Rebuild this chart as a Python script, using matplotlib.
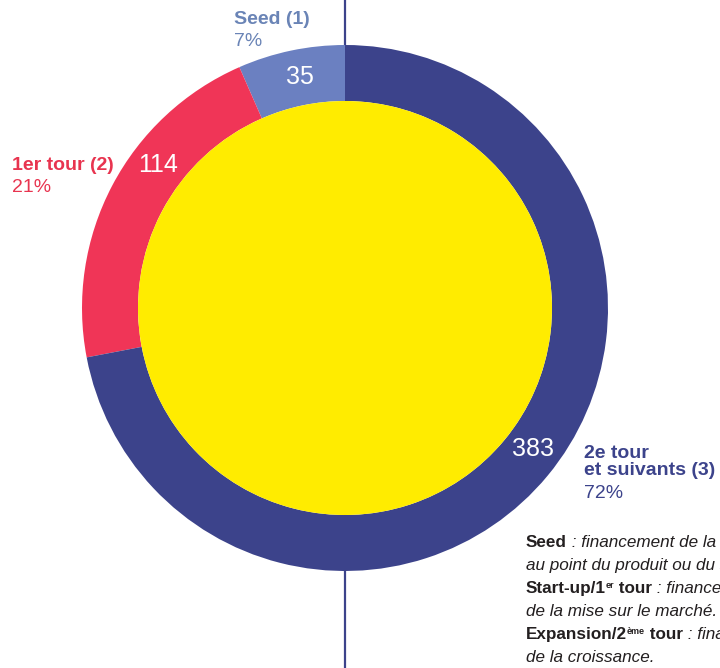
import matplotlib

matplotlib.use("Agg")
import matplotlib.pyplot as plt
import numpy as np

plt.rcParams["font.family"] = ["Liberation Sans", "DejaVu Sans"]

stages = ["Seed (1)", "1er tour (2)", "2e tour\net suivants (3)"]
counts = [35, 114, 383]
shares = ["7%", "21%", "72%"]
ring_colors = ["#6b80c1", "#f03557", "#3c438b"]
label_colors = ["#6a84b6", "#e8344f", "#3c438b"]

W, H = 720, 668
cx, cy = 345, H - 308
r_out, r_in = 263, 207

fig = plt.figure(figsize=(W / 100, H / 100), dpi=100)
ax = fig.add_axes([0, 0, 1, 1])

# vertical guide behind the donut
ax.plot([cx, cx], [0, H], color="#3c438b", lw=1.6, zorder=0)

wedges, _ = ax.pie(
    counts,
    colors=ring_colors,
    startangle=90,
    counterclock=True,
    center=(cx, cy),
    radius=r_out,
    wedgeprops=dict(width=r_out - r_in, linewidth=0),
    frame=True,
)
ax.set_xlim(0, W)
ax.set_ylim(0, H)
ax.axis("off")
ax.add_patch(plt.Circle((cx, cy), r_in, color="#ffec00", lw=0, zorder=3))

# value labels inside the ring
value_angles = [101, 142.5, -37]
r_mid = 235
for n, ang in zip(counts, value_angles):
    a = np.deg2rad(ang)
    ax.text(cx + r_mid * np.cos(a), cy + r_mid * np.sin(a), str(n), color="white",
            fontsize=18, ha="center", va="center", zorder=4)

# stage names and shares outside
label_pos = [(234, H - 20), (12, H - 165), (584, H - 462)]
for name, share, col, (x, y) in zip(stages, shares, label_colors, label_pos):
    ax.text(x, y, name, color=col, fontsize=14, fontweight="bold",
            ha="left", va="center", linespacing=1.05)
    nlines = name.count("\n")
    ax.text(x, y - 22 - nlines * 10, share, color=col, fontsize=14,
            ha="left", va="center")

# footnote with mixed bold / italic runs
fig.canvas.draw()
renderer = fig.canvas.get_renderer()
inv = ax.transData.inverted()


def draw_runs(x, y, runs):
    for txt, weight, style, size, dy in runs:
        t = ax.text(x, y + dy, txt, color="#231f20", fontsize=size, fontweight=weight,
                    fontstyle=style, ha="left", va="baseline")
        bb = t.get_window_extent(renderer)
        x = inv.transform((bb.x1, bb.y0))[0]


fs = 12.3
sup = 6.5
note_lines = [
    [("Seed", "bold", "normal", fs, 0), (" : financement de la mise", "normal", "italic", fs, 0)],
    [("au point du produit ou du service.", "normal", "italic", fs, 0)],
    [("Start-up/1", "bold", "normal", fs, 0), ("er", "bold", "normal", sup, 5),
     (" tour", "bold", "normal", fs, 0), (" : financement", "normal", "italic", fs, 0)],
    [("de la mise sur le marché.", "normal", "italic", fs, 0)],
    [("Expansion/2", "bold", "normal", fs, 0), ("ème", "bold", "normal", sup, 5),
     (" tour", "bold", "normal", fs, 0), (" : financement", "normal", "italic", fs, 0)],
    [("de la croissance.", "normal", "italic", fs, 0)],
]
for i, runs in enumerate(note_lines):
    draw_runs(526, H - 547 - i * 23, runs)

fig.savefig("out.png", dpi=100)
